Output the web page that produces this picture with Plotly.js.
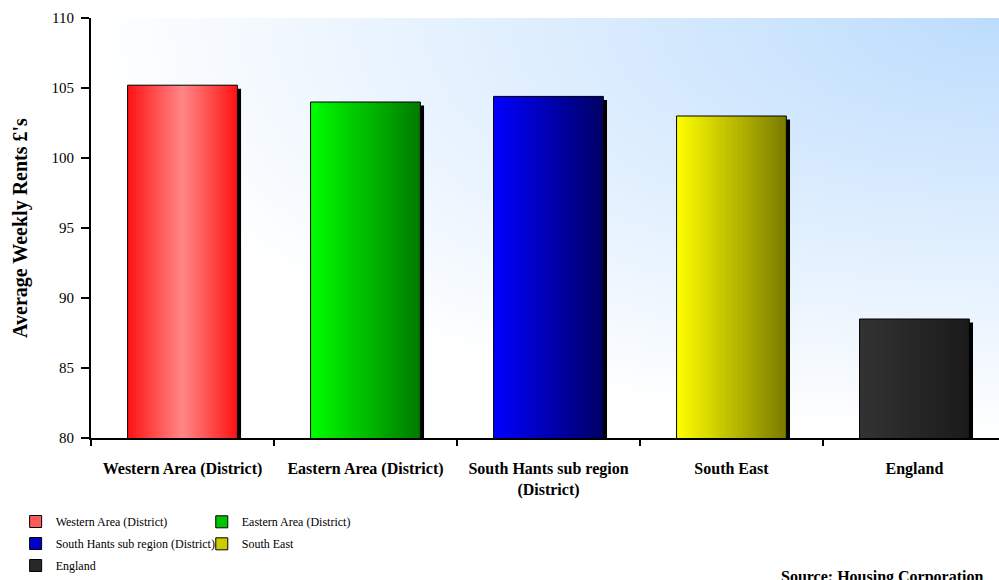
<!DOCTYPE html>
<html>
<head>
<meta charset="utf-8">
<script src="https://cdn.plot.ly/plotly-3.0.1.min.js"></script>
<style>html,body{margin:0;padding:0;background:#fff;}#chart{width:999px;height:580px;}</style>
</head>
<body>
<div id="chart"></div>
<script>
// ---- data ----
const categories = ['Western Area (District)', 'Eastern Area (District)', 'South Hants sub region (District)', 'South East', 'England'];
const tickLabels = ['Western Area (District)', 'Eastern Area (District)', 'South Hants sub region<br>(District)', 'South East', 'England'];
const rents = [105.2, 104.0, 104.4, 103.0, 88.5];
const legendSwatch = ['#ff5a5a', '#00c400', '#0000c8', '#cccc00', '#282828'];
const gradientStops = [
  [[0, '#ff1212'], [0.5, '#ff8888'], [1, '#ff1212']],
  [[0, '#00ff00'], [1, '#007a00']],
  [[0, '#0000ff'], [1, '#000066']],
  [[0, '#ffff00'], [1, '#7a7a00']],
  [[0, '#333333'], [1, '#1a1a1a']]
];
const legendOf = ['legend', 'legend2', 'legend', 'legend2', 'legend'];

// ---- helpers ----
function hex2rgb(h){ h = h.replace('#',''); return [parseInt(h.substr(0,2),16), parseInt(h.substr(2,2),16), parseInt(h.substr(4,2),16)]; }
function gradAt(stops, t){
  for (let i = 0; i < stops.length - 1; i++) {
    const a = stops[i], b = stops[i+1];
    if (t >= a[0] && t <= b[0]) {
      const f = (t - a[0]) / (b[0] - a[0]);
      const ca = hex2rgb(a[1]), cb = hex2rgb(b[1]);
      return 'rgb(' + ca.map((v, k) => Math.round(v + (cb[k] - v) * f)).join(',') + ')';
    }
  }
  return stops[stops.length-1][1];
}

const BAR_W = 0.6;
const N = 40;
const traces = [];

// shadow
traces.push({
  type: 'bar', x: categories, y: rents.map(v => v - 0.25),
  width: BAR_W, offset: -BAR_W/2 + 0.02,
  marker: {color: '#000000', line: {width: 0}},
  showlegend: false, hoverinfo: 'skip'
});

// gradient slices
const sw = BAR_W / N;
for (let i = 0; i < N; i++) {
  const off = -BAR_W/2 + i * sw;
  const w = Math.min(sw * 1.6, BAR_W/2 - off);
  const t = (i + 0.5) / N;
  traces.push({
    type: 'bar', x: categories, y: rents,
    width: w, offset: off,
    marker: {color: gradientStops.map(s => gradAt(s, t)), line: {width: 0}},
    showlegend: false, hoverinfo: 'skip'
  });
}

// outline
traces.push({
  type: 'bar', x: categories, y: rents,
  width: BAR_W, offset: -BAR_W/2,
  marker: {color: 'rgba(0,0,0,0)', line: {color: '#000000', width: 1}},
  showlegend: false, hovertemplate: '%{x}: %{y}<extra></extra>'
});

// legend entries
categories.forEach((c, k) => {
  traces.push({
    type: 'bar', x: [c], y: [null], name: c,
    legend: legendOf[k], legendgroup: 'g' + k,
    marker: {color: legendSwatch[k], line: {color: '#000000', width: 1}},
    showlegend: true, hoverinfo: 'skip'
  });
});

const svgBg = '<svg xmlns="http://www.w3.org/2000/svg" width="100" height="100" viewBox="0 0 100 100" preserveAspectRatio="none">' +
  '<defs><radialGradient id="g" cx="1" cy="0" r="1" gradientUnits="objectBoundingBox">' +
  '<stop offset="0" stop-color="#bcdcfd"/><stop offset="1" stop-color="#ffffff"/></radialGradient></defs>' +
  '<rect x="0" y="0" width="100" height="100" fill="url(#g)"/></svg>';

const serif = 'Liberation Serif, Times New Roman, serif';

const legendBase = {
  orientation: 'v', xanchor: 'left', y: -0.165, yanchor: 'top',
  font: {family: serif, size: 12, color: '#000000'},
  bgcolor: 'rgba(0,0,0,0)', tracegroupgap: 3, itemclick: false
};

const layout = {
  width: 999, height: 580,
  margin: {l: 91, r: 0, t: 18, b: 138, pad: 0},
  paper_bgcolor: '#ffffff', plot_bgcolor: '#ffffff',
  barmode: 'overlay',
  font: {family: serif, color: '#000000'},
  images: [{
    source: 'data:image/svg+xml;charset=utf-8,' + encodeURIComponent(svgBg),
    xref: 'paper', yref: 'paper', x: 0, y: 1, sizex: 1, sizey: 1,
    sizing: 'stretch', xanchor: 'left', yanchor: 'top', layer: 'below'
  }],
  xaxis: {
    type: 'category', range: [-0.5, 4.462],
    tickvals: categories, ticktext: tickLabels,
    showline: true, linecolor: '#000000', linewidth: 2,
    ticks: 'outside', tickson: 'boundaries', ticklen: 6, tickwidth: 2, tickcolor: '#000000',
    showgrid: false, zeroline: false,
    tickfont: {family: serif, size: 16, weight: 'bold', color: '#000000'},
    ticklabelstandoff: 15
  },
  yaxis: {
    range: [80, 110], dtick: 5, tick0: 80,
    showline: true, linecolor: '#000000', linewidth: 2,
    ticks: 'outside', ticklen: 8, tickwidth: 2, tickcolor: '#000000',
    showgrid: false, zeroline: false,
    tickfont: {family: serif, size: 15, color: '#000000'},
    ticklabelstandoff: 4,
    title: {text: "Average Weekly Rents £'s", font: {family: serif, size: 20, weight: 'bold', color: '#000000'}, standoff: 19}
  },
  legend: Object.assign({}, legendBase, {x: -0.083}),
  legend2: Object.assign({}, legendBase, {x: 0.122}),
  annotations: [{
    text: '<b>Source: Housing Corporation</b>',
    xref: 'paper', yref: 'paper', x: 0.758, y: -0.305, xanchor: 'left', yanchor: 'top',
    showarrow: false, font: {family: serif, size: 16, color: '#000000'}
  }],
  showlegend: true
};

Plotly.newPlot('chart', traces, layout, {displayModeBar: false, staticPlot: true});
</script>
</body>
</html>
